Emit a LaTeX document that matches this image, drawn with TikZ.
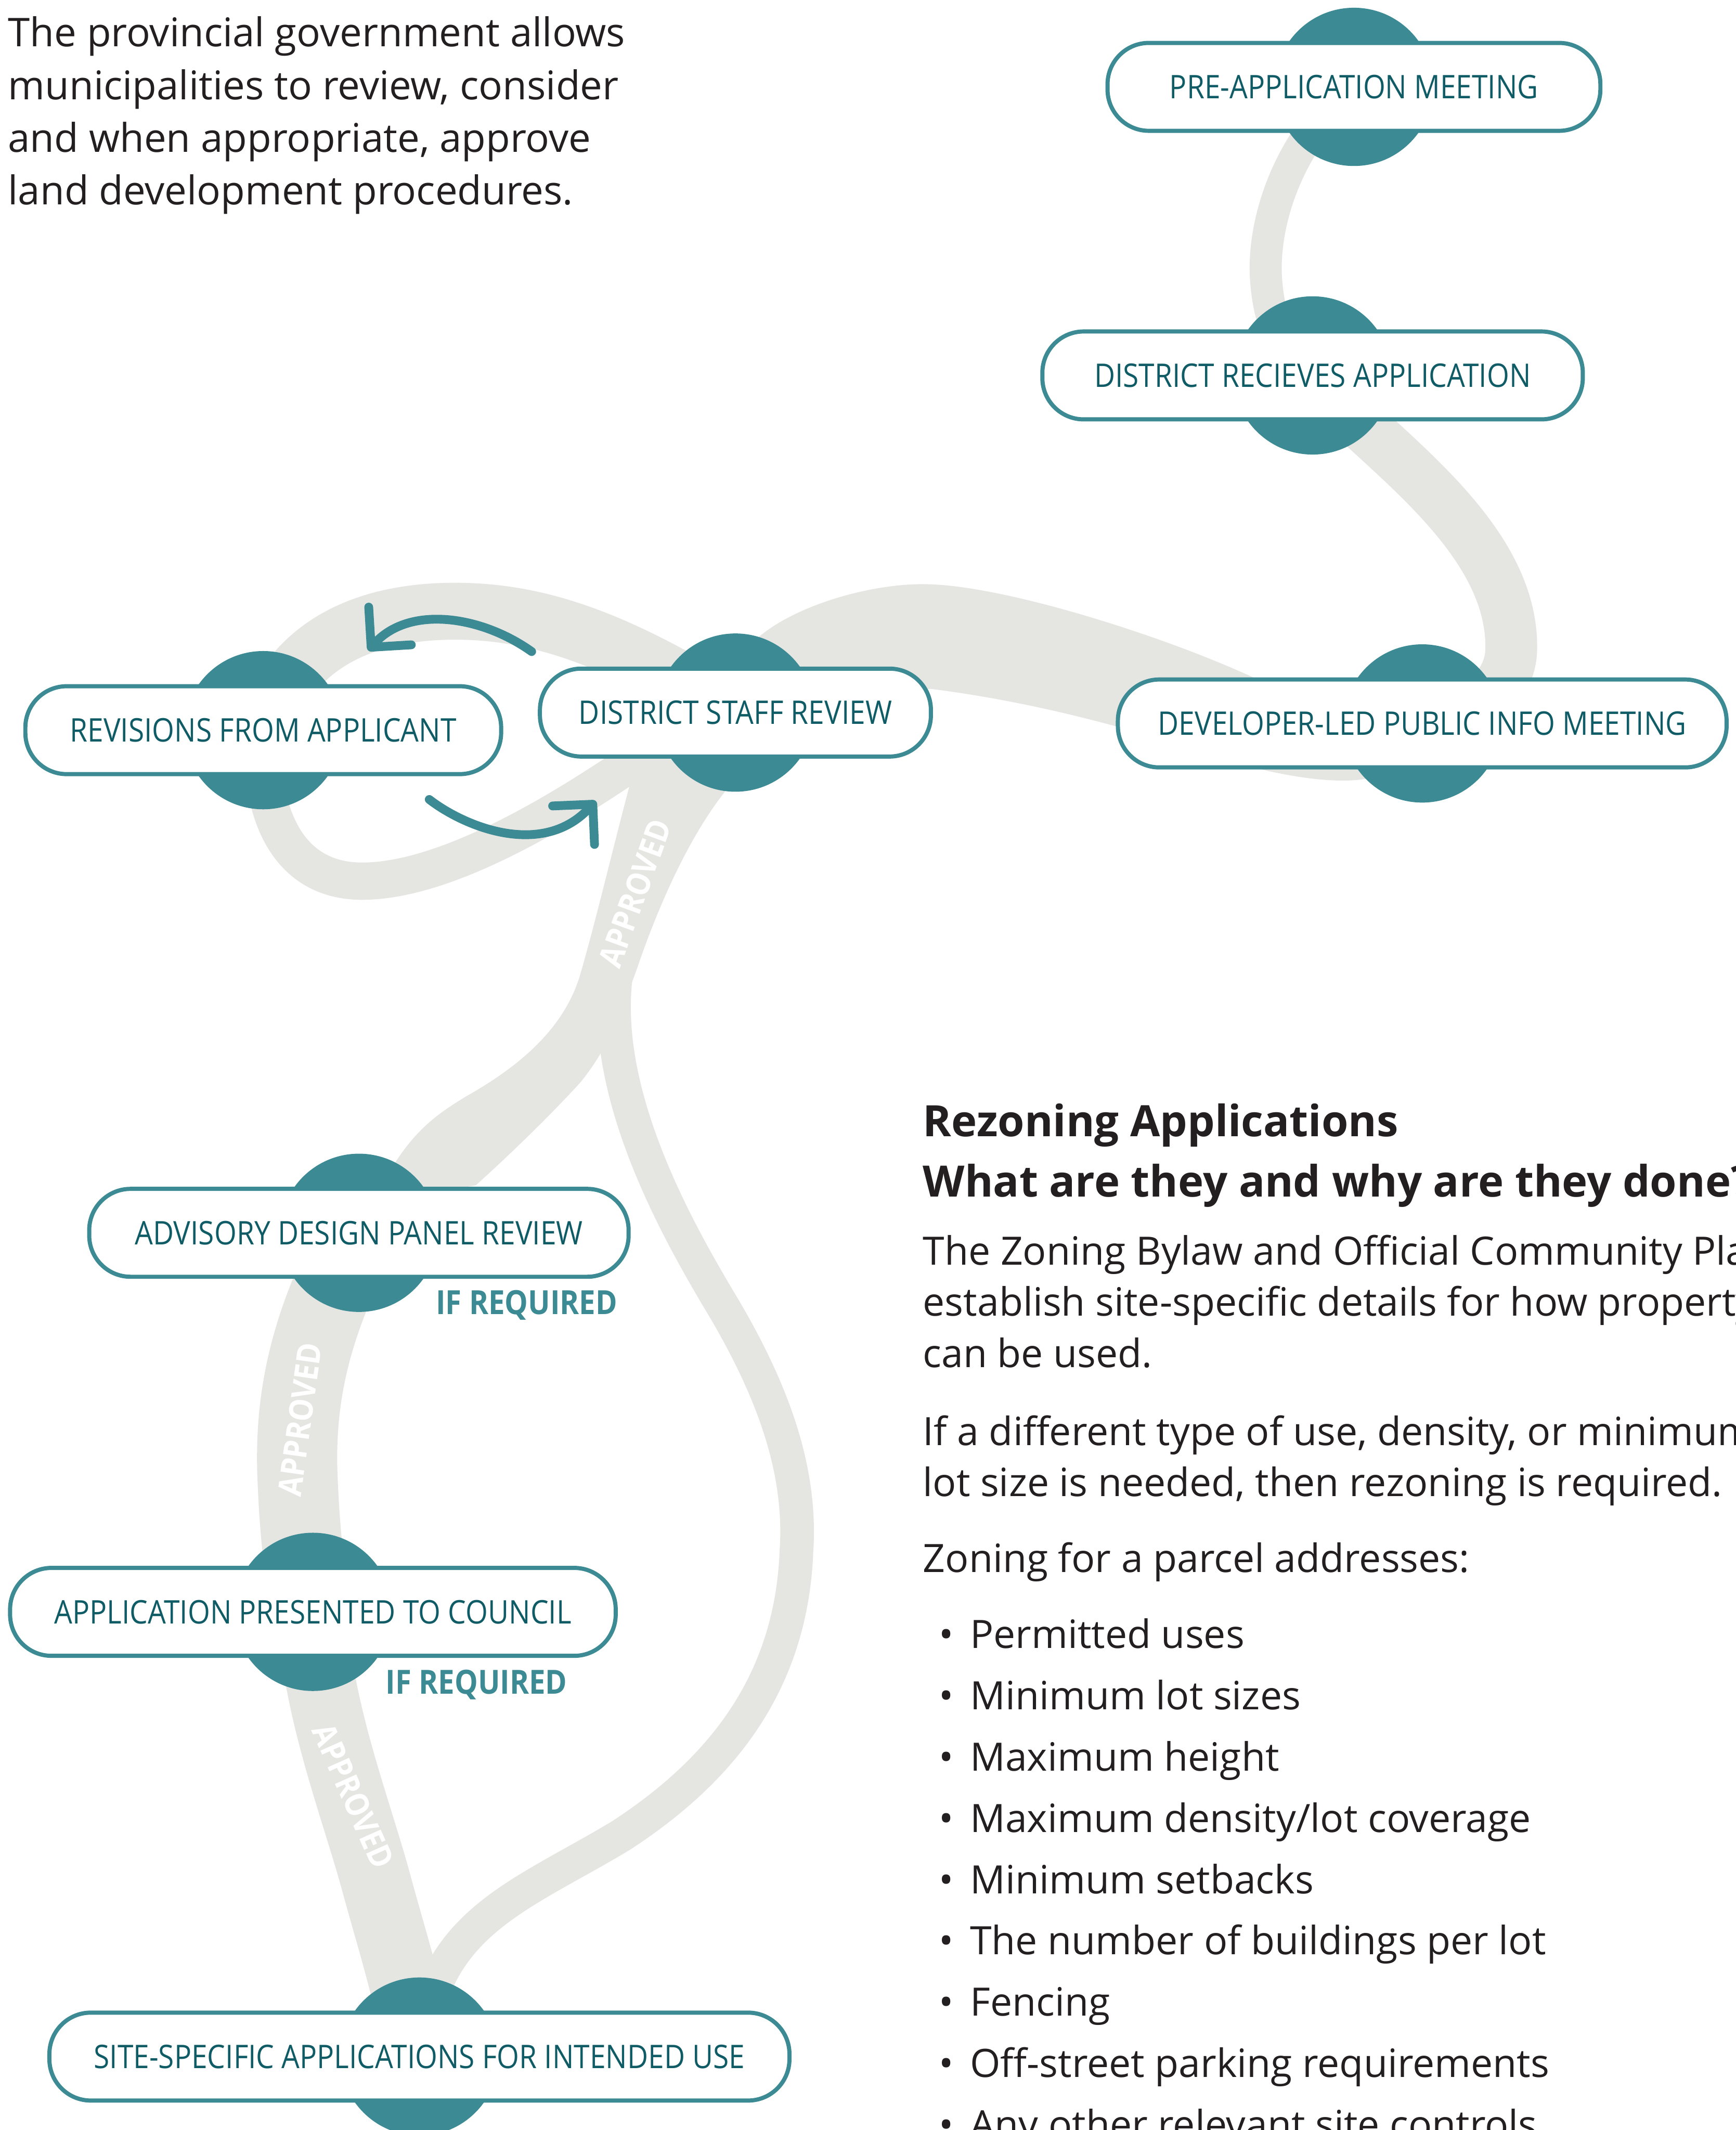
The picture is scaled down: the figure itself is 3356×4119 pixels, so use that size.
\documentclass[tikz,border=0pt]{standalone}
\usepackage{fontspec}
\setmainfont{Open Sans}
\newfontfamily\labelfont[FakeStretch=0.88]{Open Sans}
\usetikzlibrary{positioning,arrows.meta}

\definecolor{tealc}{RGB}{60,138,147}
\definecolor{labelc}{RGB}{16,92,102}
\definecolor{ribc}{RGB}{229,229,225}
\definecolor{bodyc}{RGB}{35,31,32}

\pgfdeclarelayer{paper}
\pgfdeclarelayer{ribbons}
\pgfsetlayers{paper,ribbons,main}

\tikzset{
  stage/.style={draw=tealc, line width=0.8mm, fill=white, rounded corners=8mm,
    minimum height=17mm, inner sep=0pt, text=labelc,
    font=\labelfont\fontsize{17.9}{20}\selectfont},
  blob/.style={fill=tealc},
  ribbon/.style={draw=ribc},
  ifreq/.style={text=tealc, inner sep=0pt, font=\labelfont\bfseries\fontsize{18.3}{20}\selectfont},
  approved/.style={text=white, inner sep=0pt, font=\labelfont\bfseries\fontsize{18}{20}\selectfont},
  looparrow/.style={draw=tealc, line width=1.7mm, line cap=round,
    -{Straight Barb[length=5.5mm, width=11mm, round]}},
  body/.style={text=bodyc, inner sep=0pt, align=left, anchor=base west,
    font=\fontsize{21.5}{28.2}\selectfont},
}

\begin{document}
\begin{tikzpicture}[x=0.1mm, y=-0.1mm]
\def\blobr{153}
\clip (0,0) rectangle (3356,4119);
\begin{pgfonlayer}{paper}
\fill[white] (0,0) rectangle (3356,4119);
\end{pgfonlayer}

% stages
\node[stage, minimum width=95.3mm] (pre) at (2618,168) {PRE-APPLICATION MEETING};
\node[stage, minimum width=104.5mm] (recv) at (2538,726) {DISTRICT RECIEVES APPLICATION};
\node[stage, minimum width=75.6mm] (dsr) at (1422,1378) {DISTRICT STAFF REVIEW};
\node[stage, minimum width=92mm] (rev) at (509,1412) {REVISIONS FROM APPLICANT};
\node[stage, minimum width=117.7mm] (dev) at (2750,1399) {DEVELOPER-LED PUBLIC INFO MEETING};
\node[stage, minimum width=104.3mm] (adp) at (694,2384) {ADVISORY DESIGN PANEL REVIEW};
\node[stage, minimum width=117.1mm] (council) at (605,3117) {APPLICATION PRESENTED TO COUNCIL};
\node[stage, minimum width=143.1mm] (site) at (811,3977) {SITE-SPECIFIC APPLICATIONS FOR INTENDED USE};

\node[ifreq, below left=2.1mm and 2.5mm of adp.south east] (ifadp) {IF REQUIRED};
\node[ifreq, below left=2.2mm and 9.7mm of council.south east] (ifcouncil) {IF REQUIRED};

\coordinate (fork) at (1195,1860);

\begin{pgfonlayer}{ribbons}
% paths between the stages
\draw[ribbon, line width=6.2mm] (pre.center) .. controls (2500,260) and (2440,420) .. (2448,540)
  .. controls (2455,640) and (2490,690) .. (recv.center);
\draw[ribbon, line width=10mm] (recv.center) .. controls (2650,860) and (2930,1030) .. (2922,1260)
  .. controls (2918,1340) and (2830,1400) .. (dev.center);
\fill[ribc] (dsr.center) -- (1440,1260) .. controls (1500,1180) and (1680,1125) .. (1799,1130)
  .. controls (1950,1135) and (2250,1230) .. (2423,1310) .. controls (2550,1365) .. (dev.center)
  -- (2700,1480) .. controls (2660,1520) and (2560,1515) .. (2448,1490)
  .. controls (2330,1460) and (2100,1370) .. (1799,1332) -- cycle;
\draw[ribbon, line width=11mm] (rev.center) .. controls (560,1250) and (700,1180) .. (888,1182)
  .. controls (1050,1184) and (1200,1240) .. (dsr.center);
\draw[ribbon, line width=7.2mm] (rev.center) .. controls (500,1580) and (560,1704) .. (700,1704)
  .. controls (850,1704) and (1050,1590) .. (1205,1486) .. controls (1280,1435) .. (dsr.center);
\fill[ribc] (1330,1420) -- (1225,1490) .. controls (1185,1640) and (1150,1790) .. (1120,1891)
  .. controls (1085,2000) and (990,2070) .. (900,2121) .. controls (820,2170) and (770,2210) .. (adp.center)
  -- (800,2320) .. controls (840,2300) and (880,2300) .. (920,2292)
  .. controls (1000,2220) and (1080,2140) .. (1124,2091)
  .. controls (1180,2020) and (1200,1960) .. (1232,1872)
  .. controls (1270,1760) and (1330,1620) .. (1404,1528) -- (1430,1420) -- cycle;
\draw[ribbon, line width=6.5mm] (fork) .. controls (1150,2100) and (1310,2380) .. (1400,2530)
  .. controls (1500,2700) and (1550,2850) .. (1540,3000)
  .. controls (1530,3250) and (1400,3420) .. (1200,3550)
  .. controls (1000,3670) and (830,3720) .. (site.center);
\draw[ribbon, line width=15.5mm] (adp.center) .. controls (600,2560) and (570,2700) .. (575,2850)
  .. controls (580,2980) and (590,3050) .. (council.center);
\draw[ribbon, line width=13.5mm] (council.center) .. controls (610,3300) and (690,3500) .. (730,3650)
  .. controls (760,3760) and (790,3850) .. (site.center);
% blobs behind the stages
\foreach \n in {pre,recv,dsr,rev,dev,adp,council,site}
  \fill[blob] (\n.center) circle (\blobr);
\end{pgfonlayer}

\node[approved, rotate=70] (ok1) at (1228,1727) {APPROVED};
\node[approved, rotate=82] (ok2) at (580,2745) {APPROVED};
\node[approved, rotate=-66] (ok3) at (683,3473) {APPROVED};

% revision loop arrows
\coordinate (a1s) at (1028,1260);
\coordinate (a1e) at (712,1258);
\draw[looparrow] (a1s) .. controls (930,1190) and (790,1170) .. (a1e);
\coordinate (a2s) at (830,1546);
\coordinate (a2e) at (1152,1549);
\draw[looparrow] (a2s) .. controls (900,1600) and (1050,1660) .. (a2e);

% texts (anchored at the baseline of the last line)
\node[body, font=\fontsize{21.8}{29}\selectfont] (intro) at (15,396)
  {The provincial government allows\\municipalities to review, consider\\and when appropriate, approve\\land development procedures.};
\node[body, font=\bfseries\fontsize{23.8}{33}\selectfont] (title) at (1784,2314)
  {Rezoning Applications\\What are they and why are they done?};
\node[body] (para1) at (1784,2644)
  {The Zoning Bylaw and Official Community Plan\\establish site-specific details for how property\\can be used.};
\node[body] (para2) at (1784,2894)
  {If a different type of use, density, or minimum\\lot size is needed, then rezoning is required.};
\node[body] (para3) at (1784,3040) {Zoning for a parcel addresses:};
\foreach \entry [count=\i from 0] in {Permitted uses, Minimum lot sizes, Maximum height,
    Maximum density/lot coverage, Minimum setbacks, The number of buildings per lot,
    Fencing, Off-street parking requirements, Any other relevant site controls}{
  \node[body] (item\i) at (1875,3187+118.6*\i) {\entry};
  \node[body, anchor=base] (dot\i) at (1830,3187+118.6*\i) {•};
}
\end{tikzpicture}
\end{document}
